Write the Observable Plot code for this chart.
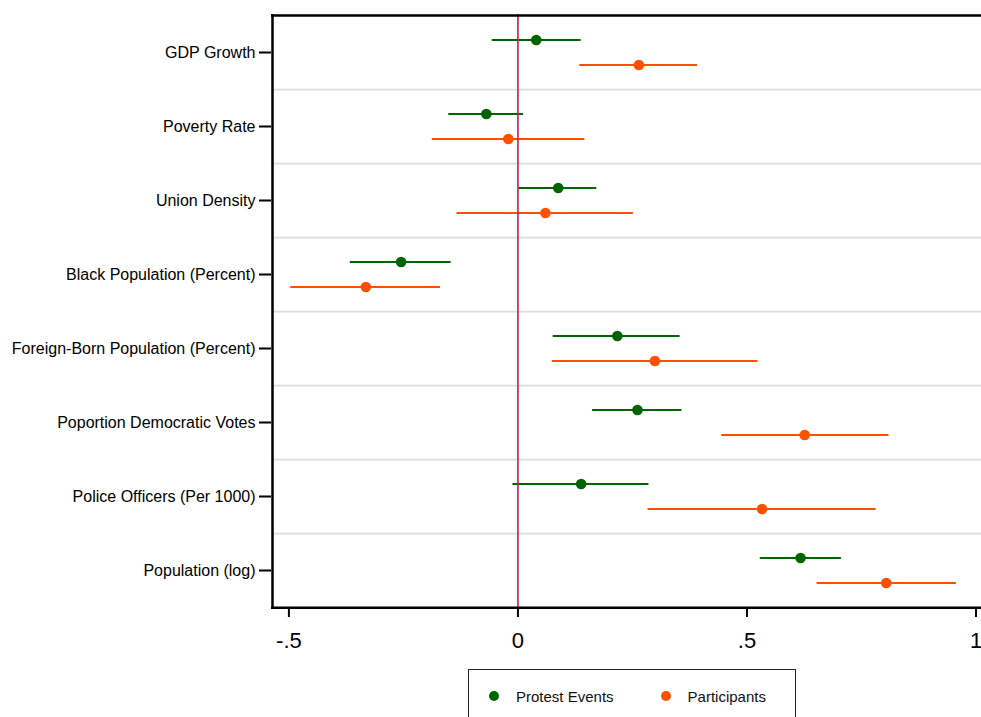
<!DOCTYPE html>
<html>
<head>
<meta charset="utf-8">
<script src="https://cdn.jsdelivr.net/npm/d3@7"></script>
<script src="https://cdn.jsdelivr.net/npm/@observablehq/plot@0.6"></script>
<style>
  html, body { margin: 0; padding: 0; background: #fff; overflow: hidden; }
  #wrap { position: relative; width: 981px; height: 717px; overflow: hidden; font-family: "Liberation Sans", Arial, sans-serif; }
  #chart svg { display: block; }
  .legendbox {
    position: absolute; left: 468px; top: 669px; width: 326px; height: 80px;
    border: 1.5px solid #222; box-sizing: content-box; background: #fff;
  }
  .legendbox .inner { position: absolute; left: 20px; top: 16px; width: 300px; }
  .legendbox .inner > div { display: flex !important; flex-wrap: nowrap !important; align-items: center; margin: 0 !important; min-height: 20px; }
  .legendbox span { display: inline-flex !important; align-items: center; white-space: nowrap; font-family: "Liberation Sans", Arial, sans-serif !important; font-size: 15px !important; color: #111; margin-right: 47px !important; }
  .legendbox span > svg { border-radius: 50%; overflow: hidden !important; margin-right: 17px !important; }
</style>
</head>
<body>
<div id="wrap">
  <div id="chart"></div>
  <div class="legendbox"><div class="inner" id="legend"></div></div>
</div>
<script>
const categories = [
  "GDP Growth",
  "Poverty Rate",
  "Union Density",
  "Black Population (Percent)",
  "Foreign-Born Population (Percent)",
  "Poportion Democratic Votes",
  "Police Officers (Per 1000)",
  "Population (log)"
];
const seriesNames = ["Protest Events", "Participants"];
const seriesColors = ["#006400", "#ff4f00"];

const protestEst = [0.040, -0.069, 0.088, -0.255, 0.217, 0.261, 0.138, 0.617];
const protestLo  = [-0.056, -0.151, 0.002, -0.366, 0.077, 0.163, -0.011, 0.529];
const protestHi  = [0.138, 0.012, 0.172, -0.146, 0.354, 0.358, 0.286, 0.706];

const partEst = [0.264, -0.021, 0.060, -0.332, 0.299, 0.626, 0.533, 0.804];
const partLo  = [0.135, -0.187, -0.133, -0.496, 0.075, 0.445, 0.284, 0.653];
const partHi  = [0.392, 0.146, 0.252, -0.169, 0.524, 0.810, 0.782, 0.957];

const xTicks = [-0.5, 0, 0.5, 1];
const xDomain = [-0.538, 1.012];

const protest = categories.map((c, i) => ({cat: c, est: protestEst[i], lo: protestLo[i], hi: protestHi[i]}));
const part = categories.map((c, i) => ({cat: c, est: partEst[i], lo: partLo[i], hi: partHi[i]}));

const W = 981, H = 660, mTop = 14, mBottom = 52, mLeft = 271, mRight = 0;
const step = (H - mTop - mBottom) / categories.length;
const off = step * 0.168;

const fmt = d => d === 0 ? "0" : String(d).replace(/^(-?)0\./, "$1.");

const chart = Plot.plot({
  width: W,
  height: H,
  marginTop: mTop,
  marginBottom: mBottom,
  marginLeft: mLeft,
  marginRight: mRight,
  style: {fontFamily: "'Liberation Sans', Arial, sans-serif", background: "#fff", color: "#000", maxWidth: "none", overflow: "visible"},
  x: {domain: xDomain, label: null},
  y: {type: "point", domain: categories, padding: 0.5, label: null},
  marks: [
    Plot.ruleY(categories.slice(0, -1), {dy: step / 2, stroke: "#dcdcdc", strokeWidth: 1.6}),
    Plot.ruleY(protest, {y: "cat", x1: "lo", x2: "hi", dy: -off, stroke: seriesColors[0], strokeWidth: 2}),
    Plot.ruleY(part, {y: "cat", x1: "lo", x2: "hi", dy: off, stroke: seriesColors[1], strokeWidth: 2}),
    Plot.ruleX([0], {stroke: "#cc1a48", strokeWidth: 1.6}),
    Plot.dot(protest, {y: "cat", x: "est", dy: -off, r: 5.3, fill: seriesColors[0], stroke: "none"}),
    Plot.dot(part, {y: "cat", x: "est", dy: off, r: 5.3, fill: seriesColors[1], stroke: "none"}),
    Plot.ruleY([categories[0]], {dy: -step / 2, stroke: "#000", strokeWidth: 2.5}),
    Plot.ruleY([categories[categories.length - 1]], {dy: step / 2, stroke: "#000", strokeWidth: 2.5}),
    Plot.ruleX([xDomain[0]], {stroke: "#000", strokeWidth: 2.5, dx: 1}),
    Plot.axisX({ticks: xTicks, tickFormat: fmt, tickSize: 9, tickPadding: 15, fontSize: 22, strokeWidth: 2, label: null}),
    Plot.axisY({tickSize: 12, tickPadding: 4, fontSize: 16, strokeWidth: 2, label: null})
  ]
});
document.getElementById("chart").appendChild(chart);

const legend = Plot.legend({
  color: {domain: seriesNames, range: seriesColors},
  legend: "swatches",
  swatchSize: 10,
  style: {fontFamily: "'Liberation Sans', Arial, sans-serif", fontSize: "15px"}
});
document.getElementById("legend").appendChild(legend);
</script>
</body>
</html>
